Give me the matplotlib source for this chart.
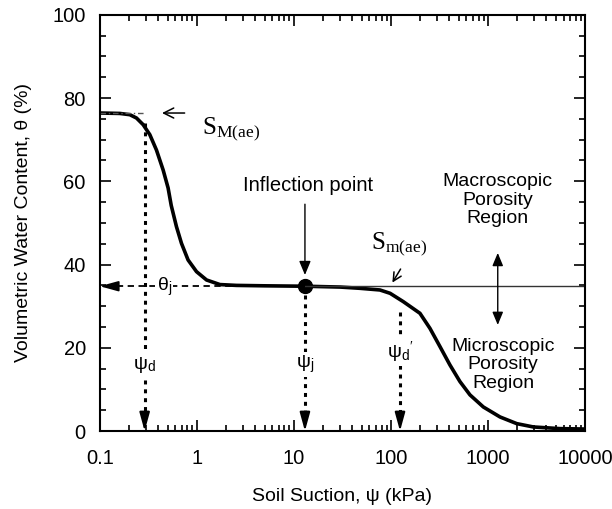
import numpy as np
import matplotlib.pyplot as plt
from matplotlib.ticker import LogLocator, MultipleLocator, FixedLocator, FixedFormatter

plt.rcParams['font.family'] = ['Liberation Sans', 'DejaVu Sans']
plt.rcParams['mathtext.fontset'] = 'custom'
plt.rcParams['mathtext.rm'] = 'Liberation Serif'
plt.rcParams['mathtext.sf'] = 'Liberation Sans'
plt.rcParams['mathtext.it'] = 'Liberation Serif:italic'

# soil-water characteristic curve (bimodal)
suction = [0.1, 0.161, 0.204, 0.239, 0.280, 0.328, 0.384, 0.450, 0.506, 0.545,
           0.617, 0.695, 0.813, 0.993, 1.26, 1.73, 2.56, 5.0, 13.0, 30.0,
           48.0, 77.0, 98.0, 134.0, 199.0, 252.0, 320.0, 405.0, 514.0, 652.0,
           895.0, 1330.0, 1977.0, 2930.0, 5520.0, 10000.0]
theta = [76.4, 76.3, 76.0, 75.2, 73.6, 71.2, 67.5, 62.7, 58.4, 54.2,
         49.1, 45.1, 41.1, 38.3, 36.3, 35.2, 35.0, 34.9, 34.8, 34.6,
         34.3, 33.9, 33.1, 31.1, 28.3, 24.7, 20.3, 15.9, 11.9, 8.7,
         5.8, 3.4, 1.8, 1.0, 0.6, 0.5]

psi_d = 0.29
psi_j = 13.0
psi_d2 = 124.0
theta_j = 34.8
theta_sat = 76.4
sm_ae = 100.0

x_ticks = [0.1, 1, 10, 100, 1000, 10000]
x_labels = ['0.1', '1', '10', '100', '1000', '10000']
y_ticks = [0, 20, 40, 60, 80, 100]

fig = plt.figure(figsize=(6.12, 5.09), dpi=100)
ax = fig.add_axes([0.163, 0.153, 0.793, 0.818])

ax.plot(suction, theta, color='black', lw=2.6, solid_joinstyle='round',
        solid_capstyle='round')
ax.plot(psi_j, theta_j, 'o', color='black', ms=10)

# thin line extending the first plateau
ax.plot([psi_j, 10000], [theta_j, theta_j], color='#333333', lw=1.0)

ax.set_xscale('log')
ax.set_xlim(0.1, 10000)
ax.set_ylim(0, 100)
ax.xaxis.set_major_locator(FixedLocator(x_ticks))
ax.xaxis.set_major_formatter(FixedFormatter(x_labels))
ax.xaxis.set_minor_locator(LogLocator(base=10, subs=np.arange(2, 10)))
ax.yaxis.set_major_locator(FixedLocator(y_ticks))
ax.yaxis.set_minor_locator(MultipleLocator(5))
ax.tick_params(which='both', direction='in', top=True, right=True, width=1.2)
ax.tick_params(which='major', length=8, labelsize=14.5)
ax.tick_params(axis='x', which='major', pad=13)
ax.tick_params(axis='y', which='major', pad=10)
ax.tick_params(which='minor', length=4.5)
for s in ax.spines.values():
    s.set_linewidth(1.5)

ax.set_xlabel('Soil Suction, \u03c8 (kPa)', fontsize=14, labelpad=14)
ax.set_ylabel('Volumetric Water Content, \u03b8 (%)', fontsize=14, labelpad=15)

dot_style = dict(color='black', lw=2.2, linestyle=(0, (1.3, 1.6)))
head = '-|>,head_length=0.8,head_width=0.22'
head_kw = dict(arrowstyle=head, color='black', lw=1.5, mutation_scale=14,
               shrinkA=0, shrinkB=0)

# dotted drop lines to the suction axis
for xv, top in [(psi_d, 74.0), (psi_j, theta_j - 2), (psi_d2, 28.7)]:
    ax.plot([xv, xv], [top, 3.0], **dot_style)
    ax.annotate('', xy=(xv, 0), xytext=(xv, 4.0), arrowprops=head_kw)

# dashed line to the water content axis
ax.plot([0.115, psi_j], [theta_j, theta_j], color='black', lw=1.3,
        linestyle=(0, (3.5, 2.5)))
ax.annotate('', xy=(0.1, theta_j), xytext=(0.13, theta_j),
            arrowprops=dict(arrowstyle=head, color='black', lw=1.3,
                            mutation_scale=14, shrinkA=0, shrinkB=0))
ax.plot([0.1, psi_d], [theta_sat, theta_sat], color='#555555', lw=1.0,
        linestyle=(0, (4, 2, 1, 2)))

lab_kw = dict(fontsize=14, ha='center', va='center',
              bbox=dict(facecolor='white', edgecolor='none', pad=1))
ax.text(psi_d, 16, '\u03c8$_\\mathsf{d}$', **lab_kw)
ax.text(psi_j, 16, '\u03c8$_\\mathsf{j}$', **lab_kw)
ax.text(psi_d2, 19, "\u03c8$_\\mathsf{d}{}^{\\prime}$", **lab_kw)
ax.text(0.46, theta_j, '\u03b8$_\\mathsf{j}$', **lab_kw)

# air-entry annotations
ax.annotate('', xy=(0.41, theta_sat), xytext=(0.8, theta_sat),
            arrowprops=dict(arrowstyle='->', color='black', lw=1.1, mutation_scale=18))
ax.text(1.12, 72.5, r'$\mathrm{S}_{\mathrm{M(ae)}}$', fontsize=18, va='center')
ax.annotate('', xy=(sm_ae, theta_j + 0.3), xytext=(130, 39.5),
            arrowprops=dict(arrowstyle='->', color='black', lw=1.1, mutation_scale=15))
ax.text(63, 45.0, r'$\mathrm{S}_{\mathrm{m(ae)}}$', fontsize=18, va='center')

ax.text(14.0, 59, 'Inflection point', fontsize=14.5, ha='center', va='center')
ax.annotate('', xy=(psi_j, 37.5), xytext=(psi_j, 54.5),
            arrowprops=dict(arrowstyle='-|>,head_length=0.6,head_width=0.25',
                            color='black', lw=1.0, mutation_scale=14,
                            shrinkA=0, shrinkB=0))

ax.text(1260, 55.5, 'Macroscopic\nPorosity\nRegion', fontsize=14, ha='center',
        va='center', linespacing=1.1)
ax.text(1430, 15.9, 'Microscopic\nPorosity\nRegion', fontsize=14, ha='center',
        va='center', linespacing=1.1)
ax.annotate('', xy=(1260, 25.5), xytext=(1260, 42.8),
            arrowprops=dict(arrowstyle='<|-|>,head_length=0.6,head_width=0.25',
                            color='black', lw=1.0, mutation_scale=13,
                            shrinkA=0, shrinkB=0))

fig.savefig('out.png', dpi=100)
